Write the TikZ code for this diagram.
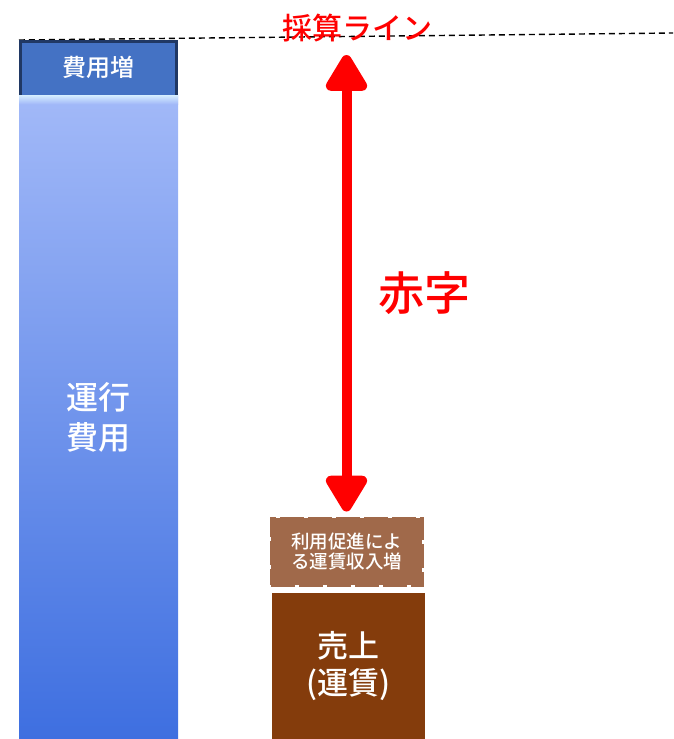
\documentclass[tikz,border=0pt]{standalone}
\usepackage{fontspec}
\setmainfont{Noto Sans CJK JP}[BoldFont={Noto Sans CJK JP Medium}]
\usetikzlibrary{arrows.meta,positioning}

\definecolor{costblue}{HTML}{4472C4}
\definecolor{costnavy}{HTML}{203864}
\definecolor{bartop}{HTML}{A2B9F8}
\definecolor{barbottom}{HTML}{3E6FE0}
\definecolor{barshine}{HTML}{D6EEFF}
\definecolor{promobrown}{HTML}{A0694A}
\definecolor{salesbrown}{HTML}{843C0C}

\begin{document}
\begin{tikzpicture}[x=1pt,y=-1pt,
    box/.style={inner sep=0pt, text=white, align=center},
    redtext/.style={text=red, inner sep=0pt},
    gap/.style={red, line width=10pt,
      {Triangle[width=46pt,length=41pt,round]}-{Triangle[width=46pt,length=41pt,round]}}]
        \useasboundingbox (0,0) rectangle (673,739);

        % Break-even line
        \coordinate (lineL) at (19,40);
        \coordinate (lineR) at (673,33);
        \draw[dash pattern=on 6pt off 4pt, line width=1.4pt] (lineL) -- (lineR);
        \node[redtext, font=\bfseries\fontsize{30}{34}\selectfont] (bep) at (357,28) {採算ライン};

        % Operating cost bar
        \node[box, top color=bartop, bottom color=barbottom, minimum width=159pt,
          minimum height=644pt, font=\bfseries\fontsize{32}{40}\selectfont] (opcost) at (98.5,417) {運行\\費用};
        \shade[top color=barshine, bottom color=bartop] (19,95) rectangle (178,104);

        % Cost increase
        \node[box, fill=costblue, minimum width=159pt, minimum height=55pt,
          font=\bfseries\fontsize{24}{28}\selectfont] (extra) at (98.5,67.5) {費用増};
        \draw[costnavy, line width=3pt] ([xshift=1.5pt]extra.south west) -- ([xshift=1.5pt,yshift=-1.5pt]extra.north west)
          -- ([xshift=-1.5pt,yshift=-1.5pt]extra.north east) -- ([xshift=-1.5pt]extra.south east);

        % Sales (fares)
        \node[box, fill=salesbrown, minimum width=153pt, minimum height=146pt,
          font=\bfseries\fontsize{31}{37}\selectfont] (sales) at (348.5,666) {売上\\(運賃)};

        % Fare revenue from usage promotion
        \node[box, fill=promobrown, draw=promobrown, line width=3pt, dash pattern=on 24pt off 4pt,
          minimum width=151pt, minimum height=67pt,
          font=\bfseries\fontsize{18.5}{20.5}\selectfont] (promo) at (346.5,551.5) {利用促進によ\\る運賃収入増};

        % Deficit
        \coordinate (apex) at (346.5,55);
        \draw[gap, shorten <=5pt] (promo.north) -- (apex);
        \node[redtext, font=\bfseries\fontsize{46}{50}\selectfont] (deficit) at (424,293) {赤字};
    \end{tikzpicture}
\end{document}
